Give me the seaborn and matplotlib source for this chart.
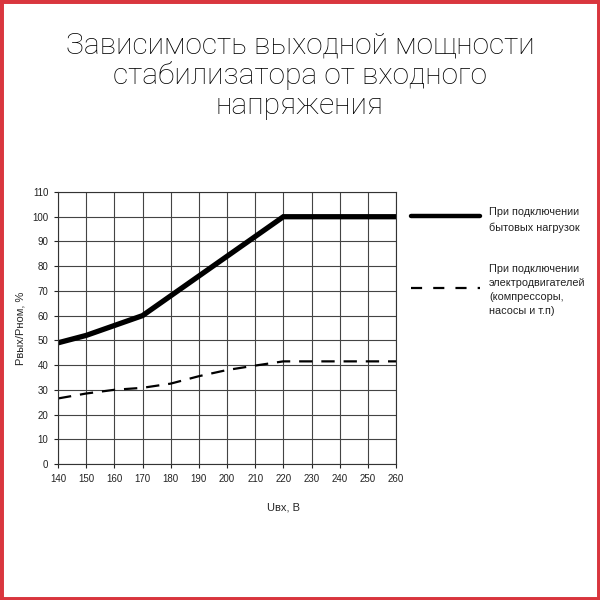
import pandas as pd
import matplotlib.pyplot as plt
import seaborn as sns
from matplotlib.lines import Line2D
from matplotlib.patches import Rectangle

# values
u_in = [140, 150, 160, 170, 180, 190, 200, 210, 220, 230, 240, 250, 260]
p_household = [49, 52, 56, 60, 68, 76, 84, 92, 100, 100, 100, 100, 100]
p_motors = [26.5, 28.5, 30, 30.8, 32.5, 35.5, 38, 39.8, 41.5, 41.5, 41.5, 41.5, 41.5]

x_ticks = list(range(140, 261, 10))
y_ticks = list(range(0, 111, 10))

sns.set_style('white')
plt.rcParams['font.family'] = ['Liberation Sans', 'DejaVu Sans']

df = pd.DataFrame({'u': u_in, 'household': p_household, 'motors': p_motors})

fig = plt.figure(figsize=(6, 6), dpi=100)
ax = fig.add_axes([0.0967, 0.2267, 0.5633, 0.4533])

sns.lineplot(data=df, x='u', y='household', color='black', linewidth=3.8,
             solid_joinstyle='miter', ax=ax)
sns.lineplot(data=df, x='u', y='motors', color='black', linewidth=1.6,
             dashes=False, ax=ax)
ax.lines[1].set_dashes([6, 4])

ax.set_xlim(140, 260)
ax.set_ylim(0, 110)
ax.set_xticks(x_ticks)
ax.set_yticks(y_ticks)
ax.tick_params(axis='both', labelsize=7, length=3, width=0.8, direction='out',
               bottom=True, left=True, pad=4, colors='#222222')
ax.grid(True, color='#444444', linewidth=0.8)
for s in ax.spines.values():
    s.set_color('#333333')
    s.set_linewidth(0.8)
ax.set_xlabel('Uвх, В', fontsize=8)
ax.set_ylabel('Рвых/Рном, %', fontsize=8)
ax.xaxis.set_label_coords(0.666, -0.14)
ax.yaxis.set_label_coords(-0.095, 0.5)

# title
fig.text(0.5, 0.874, 'Зависимость выходной мощности\nстабилизатора от входного\nнапряжения',
         ha='center', va='center', fontsize=21.5, linespacing=1.07,
         family=['Roboto', 'DejaVu Sans'], fontweight='light', color='#000000')

# legend drawn at the right
fig.add_artist(Line2D([0.685, 0.80], [0.64, 0.64], color='black', linewidth=3.2,
                      transform=fig.transFigure))
fig.add_artist(Line2D([0.685, 0.80], [0.52, 0.52], color='black', linewidth=1.6,
                      dashes=[5, 5], transform=fig.transFigure))
fig.text(0.815, 0.655, 'При подключении\nбытовых нагрузок', ha='left', va='top',
         fontsize=7.8, linespacing=1.65, color='#222222')
fig.text(0.815, 0.56, 'При подключении\nэлектродвигателей\n(компрессоры,\nнасосы и т.п)',
         ha='left', va='top', fontsize=7.8, linespacing=1.5, color='#222222')

# red frame
fig.add_artist(Rectangle((0, 0), 1, 1, transform=fig.transFigure, fill=False,
                         edgecolor='#d9363e', linewidth=5))

fig.savefig('out.png', dpi=100)
